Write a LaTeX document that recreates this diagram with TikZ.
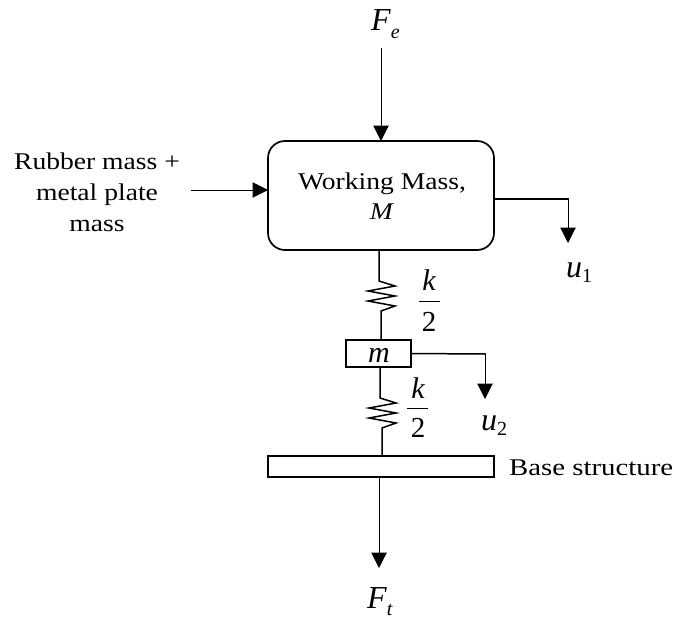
\documentclass[tikz,border=0pt]{standalone}
\usepackage{fontspec}
\setmainfont{Liberation Serif}
\newfontfamily\widefont[FakeStretch=1.15]{Liberation Serif}
\newfontfamily\widerfont[FakeStretch=1.2]{Liberation Serif}
\usetikzlibrary{arrows.meta,calc}
\tikzset{
  x=1pt,y=-1pt,
  conn/.style={line width=1pt,-{Triangle[length=15.5pt,width=15.5pt]}},
  wire/.style={line width=1.5pt},
  massbox/.style={draw,line width=1.7pt,inner sep=0pt,outer sep=0pt,anchor=north west},
  lab/.style={font=\fontsize{24}{31}\selectfont\widefont,align=center,inner sep=0pt},
  mathlab/.style={font=\fontsize{32}{34}\selectfont\itshape,inner sep=0pt,anchor=base west},
  numlab/.style={font=\fontsize{29}{34}\selectfont,inner sep=0pt,anchor=base}
}
\newcommand{\zig}[2]{(#1,#2) -- ++(16,5) -- ++(-27,5) -- ++(27,5) -- ++(-27,5) -- ++(27,5) -- ++(-14,5)}
\begin{document}
\begin{tikzpicture}
\useasboundingbox (0,0) rectangle (674,618);
\node[massbox,rounded corners=17pt,minimum width=226pt,minimum height=109pt] (work) at (268,141) {};
\node[lab,font=\fontsize{24}{30}\selectfont\widefont] (worktxt) at (382,196) {Working Mass,\\\textit{M}};
\node[massbox,minimum width=65pt,minimum height=27pt] (small) at (346,340) {};
\node[mathlab,font=\fontsize{30}{34}\selectfont\itshape,anchor=base] (smalltxt) at (379,362) {m};
\node[massbox,minimum width=226pt,minimum height=21pt] (base) at (268,456) {};
\node[lab,anchor=base west,font=\fontsize{24}{31}\selectfont\widerfont] (basetxt) at (509,475) {Base structure};
\node[lab] (rubber) at (97,192) {Rubber mass +\\metal plate\\mass};
\node[mathlab] (fe) at (371,31) {F\raisebox{-7pt}{\fontsize{20}{20}\selectfont e}};
\node[mathlab] (ft) at (367,608) {F\raisebox{-7pt}{\fontsize{20}{20}\selectfont t}};
\node[mathlab] (u1) at (566,277) {u\raisebox{-5pt}{\upshape\fontsize{20}{20}\selectfont 1}};
\node[mathlab] (u2) at (481,430) {u\raisebox{-5pt}{\upshape\fontsize{20}{20}\selectfont 2}};
\node[mathlab,font=\fontsize{30}{34}\selectfont\itshape,anchor=base] (ka) at (429,290) {k};
\node[numlab] (na) at (429,331) {2};
\draw[line width=1pt] (419,301) -- (440,301);
\node[mathlab,font=\fontsize{30}{34}\selectfont\itshape,anchor=base] (kb) at (418,398) {k};
\node[numlab] (nb) at (418,437) {2};
\draw[line width=1pt] (407,408) -- (428,408);
\coordinate (fes) at (381,48);
\coordinate (rs) at (191,190);
\coordinate (ws) at (379,568);
\coordinate (c1) at (568,199);
\coordinate (c2) at (485,354);
\draw[conn] (fes) -- (fes |- work.north);
\draw[conn] (rs) -- (rs -| work.west);
\draw[wire] (c1 -| work.east) -- (c1);
\draw[conn] ([yshift=.7pt]c1) -- (568,243);
\draw[wire] (small.east) -- (c2);
\draw[conn] ([yshift=.7pt]c2) -- (485,399);
\draw[wire,line join=miter] (379,250) -- (379,281) -- \zig{379}{281} -- (381,340);
\draw[wire,line join=miter] (380,368) -- (380,398) -- \zig{380}{398} -- (382,456);
\draw[conn] (ws |- base.south) -- (ws);
\end{tikzpicture}
\end{document}
